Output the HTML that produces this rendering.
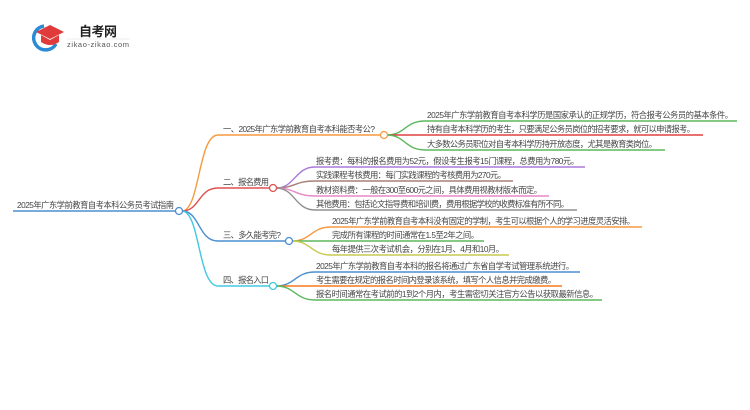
<!DOCTYPE html>
<html><head><meta charset="utf-8"><style>
html,body{margin:0;padding:0;background:#fff;}
svg{display:block}
text{font-family:"Liberation Sans","Noto Sans CJK SC",sans-serif;font-size:8.3px;fill:#444;}
</style></head><body>
<svg width="750" height="410" viewBox="0 0 750 410" xmlns="http://www.w3.org/2000/svg">
<path d="M44 26 A12 12 0 1 0 56 44" fill="none" stroke="#2a8ad6" stroke-width="3.5"/>
<polygon points="36,32 50,25 64,32 50,39" fill="#e03a3a"/>
<path d="M41 35 L41 42 Q50 48 59 42 L59 35 L50 40 Z" fill="#e03a3a"/>
<text x="79" y="36" style="font-size:13px;font-weight:bold;fill:#222" textLength="38">自考网</text>
<line x1="67" y1="39" x2="130" y2="39" stroke="#ddd" stroke-width="0.6"/>
<text x="67" y="47" style="font-size:7.5px;fill:#555" textLength="62">zikao-zikao.com</text>

<g fill="none" stroke-width="1.4">
<line x1="13" y1="211" x2="176" y2="211" stroke="#4a8fd0"/>
<path d="M182 211 C200 211,198 135,218 135 L381 135" stroke="#f79a3e"/>
<path d="M182 211 C200 211,198 188,218 188 L270 188" stroke="#e05050"/>
<path d="M182 211 C200 211,198 241,218 241 L286 241" stroke="#4a8fd0"/>
<path d="M182 211 C200 211,198 286,218 286 L270 286" stroke="#40c8e0"/>
<path d="M387 135 C405 135,405 121,425 121 L737 121" stroke="#5cb85c"/>
<path d="M387 135 L703 135" stroke="#e04040"/>
<path d="M387 135 C405 135,405 150,425 150 L665 150" stroke="#5cb85c"/>
<path d="M276 188 C295 188,295 167,315 167 L585 167" stroke="#a87ad8"/>
<path d="M276 188 C295 188,295 181,315 181 L513 181" stroke="#a88078"/>
<path d="M276 188 C295 188,295 196,315 196 L549 196" stroke="#e888c8"/>
<path d="M276 188 C295 188,295 210,315 210 L577 210" stroke="#909090"/>
<path d="M292 241 C311 241,311 227,331 227 L642 227" stroke="#f79a3e"/>
<path d="M292 241 L484 241" stroke="#5cb85c"/>
<path d="M292 241 C311 241,311 255,331 255 L509 255" stroke="#c8c850"/>
<path d="M276 286 C295 286,295 272,315 272 L580 272" stroke="#4a8fd0"/>
<path d="M276 286 L562 286" stroke="#f77a1e"/>
<path d="M276 286 C295 286,295 300,315 300 L602 300" stroke="#5cb85c"/>
</g>
<g fill="#fff" stroke-width="1.3">
<circle cx="179" cy="211" r="3.5" stroke="#4a8fd0"/>
<circle cx="384" cy="135" r="3.5" stroke="#f79a3e"/>
<circle cx="273" cy="188" r="3.5" stroke="#e05050"/>
<circle cx="289" cy="241" r="3.5" stroke="#4a8fd0"/>
<circle cx="273" cy="286" r="3.5" stroke="#40c8e0"/>
</g>

<text x="17" y="208" textLength="157">2025年广东学前教育自考本科公务员考试指南</text>
<text x="223" y="132" textLength="152">一、2025年广东学前教育自考本科能否考公?</text>
<text x="223" y="185" textLength="46">二、报名费用</text>
<text x="223" y="238" textLength="58">三、多久能考完?</text>
<text x="223" y="283" textLength="46">四、报名入口</text>

<text x="427" y="118" textLength="306">2025年广东学前教育自考本科学历是国家承认的正规学历，符合报考公务员的基本条件。</text>
<text x="427" y="132" textLength="268">持有自考本科学历的考生，只要满足公务员岗位的招考要求，就可以申请报考。</text>
<text x="427" y="147" textLength="230">大多数公务员职位对自考本科学历持开放态度，尤其是教育类岗位。</text>

<text x="316" y="164" textLength="263">报考费：每科的报名费用为52元，假设考生报考15门课程，总费用为780元。</text>
<text x="316" y="178" textLength="190">实践课程考核费用：每门实践课程的考核费用为270元。</text>
<text x="316" y="193" textLength="226">教材资料费：一般在300至600元之间，具体费用视教材版本而定。</text>
<text x="316" y="207" textLength="253">其他费用：包括论文指导费和培训费，费用根据学校的收费标准有所不同。</text>

<text x="332" y="224" textLength="303">2025年广东学前教育自考本科没有固定的学制，考生可以根据个人的学习进度灵活安排。</text>
<text x="332" y="238" textLength="147">完成所有课程的时间通常在1.5至2年之间。</text>
<text x="332" y="252" textLength="172">每年提供三次考试机会，分别在1月、4月和10月。</text>

<text x="316" y="269" textLength="258">2025年广东学前教育自考本科的报名将通过广东省自学考试管理系统进行。</text>
<text x="316" y="283" textLength="240">考生需要在规定的报名时间内登录该系统，填写个人信息并完成缴费。</text>
<text x="316" y="297" textLength="282">报名时间通常在考试前的1到2个月内，考生需密切关注官方公告以获取最新信息。</text>
</svg>
</body></html>
